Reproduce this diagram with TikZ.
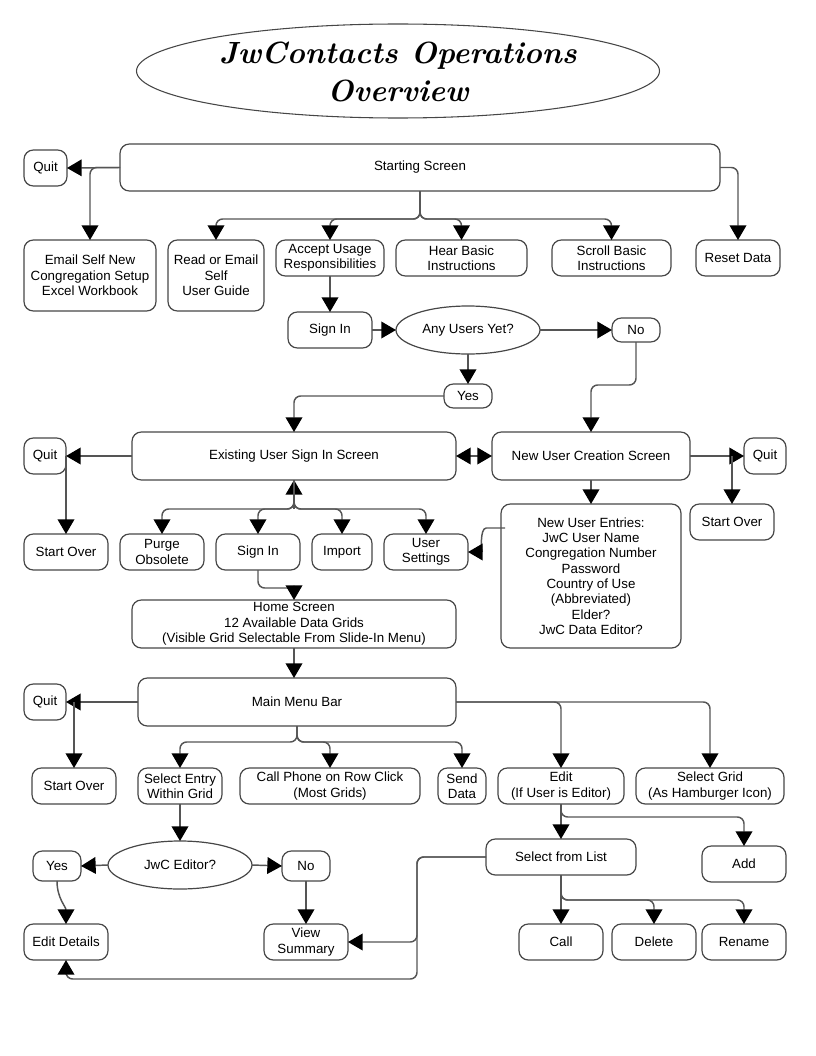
\documentclass[tikz,border=0pt]{standalone}
\usepackage{fontspec}
\newfontfamily\arial{Liberation Sans}
\usetikzlibrary{arrows.meta,shapes.geometric,calc}
\definecolor{bcol}{RGB}{70,70,70}
\definecolor{lcol}{RGB}{85,85,85}
\begin{document}
\begin{tikzpicture}[x=0.75pt,y=-0.75pt,
  box/.style={draw=bcol, line width=0.9pt, rounded corners=7pt, align=center, inner sep=0pt, outer sep=0pt, font=\arial\fontsize{10}{11.5}\selectfont, text=black},
  sz/.style 2 args={minimum width=#1*0.75pt, minimum height=#2*0.75pt},
  oval/.style={draw=bcol, line width=0.9pt, ellipse, inner sep=0pt, outer sep=0pt, align=center, font=\arial\fontsize{10}{11.5}\selectfont, text=black},
  conn/.style={draw=lcol, line width=1.1pt, rounded corners=5pt, -{Triangle[length=11pt,width=12.5pt,color=black]}},
  both/.style={draw=lcol, line width=1.1pt, {Triangle[length=11pt,width=12.5pt,color=black]}-{Triangle[length=11pt,width=12.5pt,color=black]}},
]
\useasboundingbox (0,0) rectangle (816,1056);

\node[oval, line width=0.8pt, sz={523}{94}] (title) at (398,71) {};
\node[align=center, inner sep=0pt, font=\fontsize{23}{29}\selectfont\bfseries\itshape] (titletext) at (398,72) {JwContacts Operations\\Overview};

\node[box,sz={600}{47}] (ss) at (420,167.5) {Starting Screen};
\node[box,sz={43}{36}] (q1) at (45.5,168) {Quit};
\node[box,sz={132}{71}] (email) at (90,275.5) {Email Self New\\Congregation Setup\\Excel Workbook};
\node[box,sz={96}{71}] (read) at (216,275.5) {Read or Email\\Self\\User Guide};
\node[box,sz={108}{36}] (accept) at (330,258) {Accept Usage\\Responsibilities};
\node[box,sz={131}{36}] (hear) at (461.5,258) {Hear Basic\\Instructions};
\node[box,sz={119}{36}] (scroll) at (611.5,258) {Scroll Basic\\Instructions};
\node[box,sz={84}{36}] (reset) at (738,258) {Reset Data};
\node[box,sz={84}{36}] (si1) at (330,330) {Sign In};
\node[oval,sz={144}{48}] (any) at (468,330) {Any Users Yet?};
\node[box,sz={48}{24}] (no1) at (636,330) {No};
\node[box,sz={48}{24}] (yes1) at (468,396) {Yes};
\node[box,sz={324}{48}] (esis) at (294,456) {Existing User Sign In Screen};
\node[box,sz={198}{48}] (nucs) at (591,456) {New User Creation Screen};
\node[box,sz={42}{36}] (q2) at (45,456) {Quit};
\node[box,sz={42}{36}] (q3) at (765,456) {Quit};
\node[box,sz={84}{36}] (so1) at (66,552) {Start Over};
\node[box,sz={84}{36}] (so2) at (732,522) {Start Over};
\node[box,sz={84}{36}] (purge) at (162,552) {Purge\\Obsolete};
\node[box,sz={84}{36}] (si2) at (258,552) {Sign In};
\node[box,sz={60}{36}] (import) at (342,552) {Import};
\node[box,sz={84}{36}] (us) at (426,552) {User\\Settings};
\node[box,sz={180}{144}] (nue) at (591,576) {New User Entries:\\JwC User Name\\Congregation Number\\Password\\Country of Use\\(Abbreviated)\\Elder?\\JwC Data Editor?};
\node[box,sz={324}{48}] (home) at (294,624) {Home Screen\\12 Available Data Grids\\(Visible Grid Selectable From Slide-In Menu)};
\node[box,sz={318}{48}] (mm) at (297,702) {Main Menu Bar};
\node[box,sz={42}{36}] (q4) at (45,702) {Quit};
\node[box,sz={84}{36}] (so3) at (74,786) {Start Over};
\node[box,sz={84}{36}] (sel) at (180,786) {Select Entry\\Within Grid};
\node[box,sz={180}{36}] (phone) at (330,786) {Call Phone on Row Click\\(Most Grids)};
\node[box,sz={48}{36}] (send) at (462,786) {Send\\Data};
\node[box,sz={126}{36}] (edit) at (561,786) {Edit\\(If User is Editor)};
\node[box,sz={148}{36}] (sgrid) at (710,786) {Select Grid\\(As Hamburger Icon)};
\node[oval,sz={144}{48}] (jed) at (180,865) {JwC Editor?};
\node[box,sz={48}{30}] (yes2) at (57,866) {Yes};
\node[box,sz={48}{30}] (no2) at (306,866) {No};
\node[box,sz={84}{36}] (ed) at (66,942) {Edit Details};
\node[box,sz={84}{36}] (vs) at (306,942) {View\\Summary};
\node[box,sz={150}{36}] (sfl) at (561,857) {Select from List};
\node[box,sz={84}{36}] (add) at (744,864) {Add};
\node[box,sz={84}{36}] (call) at (561,942) {Call};
\node[box,sz={84}{36}] (del) at (654,942) {Delete};
\node[box,sz={84}{36}] (ren) at (744,942) {Rename};

\coordinate (ej) at (294,509);
\coordinate (bend) at (417,857);
\coordinate (nuel) at (505,528);

% Starting screen
\draw[conn] (ss.west) -- (q1.east);
\draw[conn] (ss.west) -| (email.north);
\draw[conn] (ss.south) -- ++(0,28) -| (read.north);
\draw[conn] (ss.south) -- ++(0,28) -| (accept.north);
\draw[conn] (ss.south) -- ++(0,28) -| (hear.north);
\draw[conn] (ss.south) -- ++(0,28) -| (scroll.north);
\draw[conn] (ss.east) -| (reset.north);
\draw[conn] (accept.south) -- (si1.north);
\draw[conn] (si1.east) -- (any.west);
\draw[conn] (any.east) -- (no1.west);
\draw[conn] (any.south) -- (yes1.north);
\draw[conn] (yes1.west) -| (esis.north);
\draw[conn] (no1.south) -- ++(0,43) -| (nucs.north);

% Sign in screens
\draw[both] (esis.east) -- (nucs.west);
\draw[conn] (esis.west) -- (q2.east);
\draw[conn] (q2.east) -- (so1.north);
\draw[conn] (ej) -- (esis.south);
\draw[conn] (esis.south) -- (ej) -| (purge.north);
\draw[conn] (esis.south) -- (ej) -| (si2.north);
\draw[conn] (esis.south) -- (ej) -| (import.north);
\draw[conn] (esis.south) -- (ej) -| (us.north);
\draw[conn] (nucs.south) -- (nue.north);
\draw[conn] (nucs.east) -- (q3.west);
\draw[conn] (so2.north |- nucs.east) -- (so2.north);
\draw[conn] (nuel) -- ++(-12,0) to[out=180,in=0] (us.east);
\draw[conn] (si2.south) -- ++(0,18) -| (home.north);
\draw[conn] (home.south) -- (home.south |- mm.north);

% Main menu
\draw[conn] (mm.west) -- (q4.east);
\draw[conn] (so3.north |- mm.west) -- (so3.north);
\draw[conn] (mm.south) -- ++(0,16) -| (sel.north);
\draw[conn] (mm.south) -- ++(0,16) -| (phone.north);
\draw[conn] (mm.south) -- ++(0,16) -| (send.north);
\draw[conn] (mm.east) -| (edit.north);
\draw[conn] (mm.east) -| (sgrid.north);
\draw[conn] (sel.south) -- (jed.north);
\draw[conn] (jed.west) -- (yes2.east);
\draw[conn] (jed.east) -- (no2.west);
\draw[conn] (yes2.south) to[out=-90,in=90] (ed.north);
\draw[conn] (no2.south) -- (vs.north);
\draw[conn] (edit.south) -- (sfl.north);
\draw[conn] (edit.south) -- ++(0,13) -| (add.north);
\draw[conn] (sfl.west) -- (bend) |- (vs.east);
\draw[conn] (sfl.west) -- (bend) -- (bend |- 0,979) -| (ed.south);
\draw[conn] (sfl.south) -- (call.north);
\draw[conn] (sfl.south) -- ++(0,25) -| (del.north);
\draw[conn] (sfl.south) -- ++(0,25) -| (ren.north);
\end{tikzpicture}
\end{document}
